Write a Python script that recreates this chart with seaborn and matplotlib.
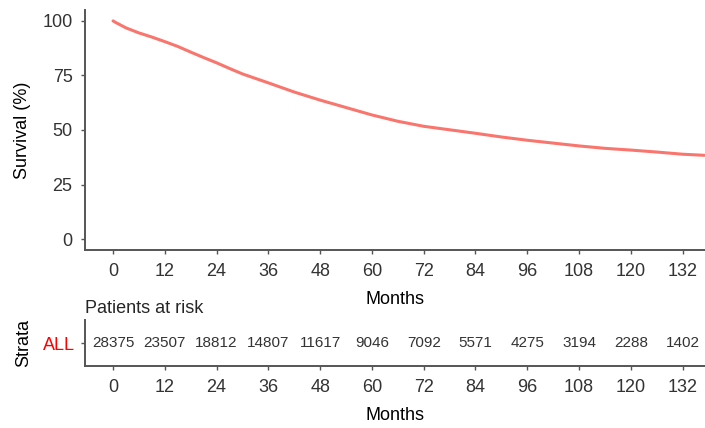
import numpy as np
import pandas as pd
import seaborn as sns
import matplotlib.pyplot as plt

# survival curve
months = [0, 0.5, 3, 6, 9, 12, 15, 18, 21, 24, 27, 30, 36, 42, 48, 54, 60, 66, 72, 78,
          84, 90, 96, 102, 108, 114, 120, 126, 132, 137]
survival = [100, 99.4, 96.8, 94.5, 92.6, 90.5, 88.3, 85.7, 83.2, 80.8, 78.2, 75.7, 71.6,
            67.4, 63.7, 60.3, 56.9, 54.0, 51.7, 50.1, 48.5, 46.8, 45.3, 44.0, 42.7, 41.6,
            40.8, 39.9, 38.9, 38.4]

# risk table
risk_times = [0, 12, 24, 36, 48, 60, 72, 84, 96, 108, 120, 132]
at_risk = [28375, 23507, 18812, 14807, 11617, 9046, 7092, 5571, 4275, 3194, 2288, 1402]
strata = ["ALL"]

curve = pd.DataFrame({"Months": months, "Survival": survival})

sns.set_style("ticks")
plt.rcParams["font.family"] = ["Liberation Sans", "DejaVu Sans"]
axis_col = "#555555"
text_col = "#333333"
fs = 13

fig = plt.figure(figsize=(7.05, 4.28), dpi=100)
ax = fig.add_axes([85 / 705, 1 - 250 / 428, 620 / 705, 240 / 428])
ax_t = fig.add_axes([85 / 705, 1 - 366 / 428, 620 / 705, 46 / 428])

xlim = (-6.5, 137.2)

sns.lineplot(data=curve, x="Months", y="Survival", ax=ax, color="#F8766D",
             linewidth=2.2)
ax.set_xlim(*xlim)
ax.set_ylim(-5, 105)
ax.set_xticks(risk_times)
ax.set_yticks([0, 25, 50, 75, 100])
ax.set_xlabel("Months", fontsize=fs, color="black", labelpad=8)
ax.set_ylabel("Survival (%)", fontsize=fs, color="black", labelpad=8)

# risk table
for t, n in zip(risk_times, at_risk):
    ax_t.text(t, 0, str(n), ha="center", va="center", fontsize=11, color=text_col)
ax_t.set_xlim(*xlim)
ax_t.set_ylim(-0.6, 0.6)
ax_t.set_xticks(risk_times)
ax_t.set_yticks([0])
ax_t.set_yticklabels(strata, color="red", fontsize=fs)
ax_t.set_xlabel("Months", fontsize=fs, color="black", labelpad=8)
ax_t.set_ylabel("Strata", fontsize=fs, color="black", labelpad=8)
ax_t.set_title("Patients at risk", fontsize=fs, loc="left", pad=5, x=0.0)

for a in (ax, ax_t):
    sns.despine(ax=a)
    for s in ("left", "bottom"):
        a.spines[s].set_color(axis_col)
        a.spines[s].set_linewidth(1.4)
    a.tick_params(length=3, width=1, color=axis_col, labelsize=fs, labelcolor=text_col, pad=6)
ax_t.tick_params(axis="y", labelcolor="red", pad=4)

fig.savefig("out.png", dpi=100)
